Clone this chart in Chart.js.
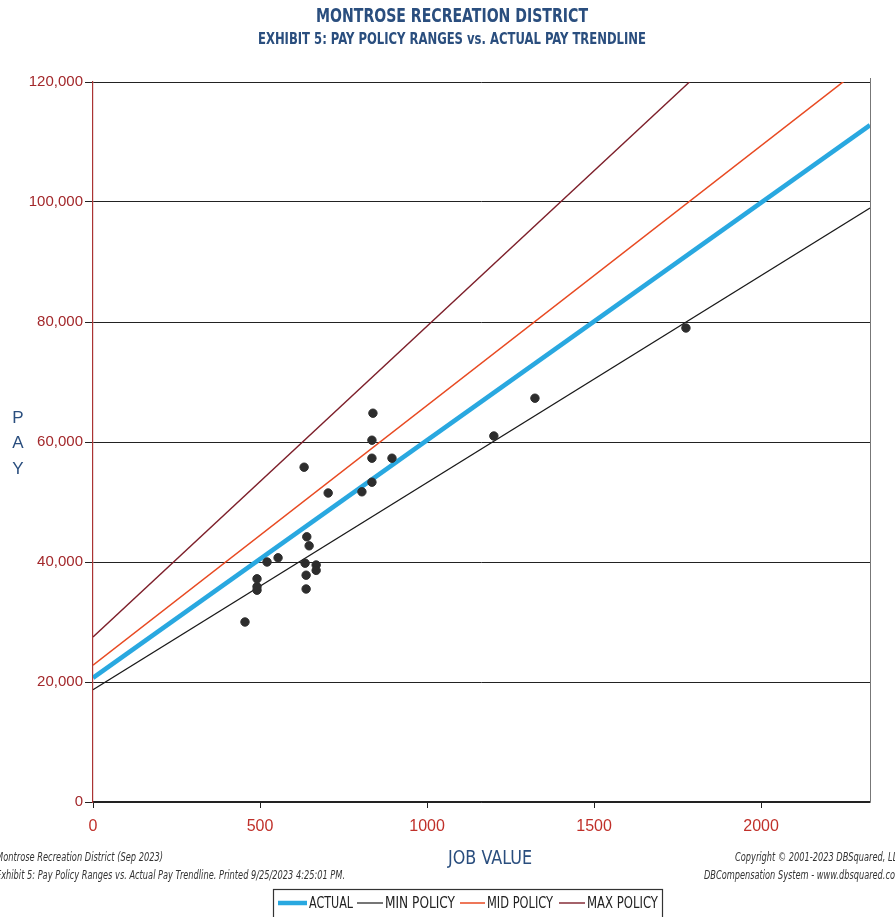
<!DOCTYPE html>
<html>
<head>
<meta charset="utf-8">
<script src="https://cdn.jsdelivr.net/npm/chart.js@4/dist/chart.umd.min.js"></script>
<style>
  html, body { margin: 0; padding: 0; background: #fff; }
  #wrap { width: 895px; height: 917px; }
</style>
</head>
<body>
<div id="wrap"><canvas id="chart" width="895" height="917"></canvas></div>
<script>
// trend lines: pay at job value 0 and at the right edge of the plot
const xEnds = [0, 2326];
const actualLine = [20700, 112800];
const minLine = [18700, 99000];
const midLine = [22800, 123500];
const maxLine = [27500, 148000];

// employees: job value / pay
const jobValues = [455, 491, 491, 491, 521, 554, 632, 635, 638, 638, 640, 647, 668, 668,
  704, 805, 835, 835, 835, 838, 895, 1200, 1323, 1775];
const payValues = [30000, 37200, 35300, 35900, 40000, 40700, 55800, 39800, 37800, 35500, 44200, 42700, 39500, 38600,
  51500, 51700, 53300, 57300, 60300, 64800, 57300, 61000, 67300, 79000];

const yTicks = [0, 20000, 40000, 60000, 80000, 100000, 120000];
const xTicks = [0, 500, 1000, 1500, 2000];

const FONT = "'Liberation Sans Narrow', 'DejaVu Sans Condensed', 'Liberation Sans', sans-serif";
const BLUE = "#2a4e7e";

function linePts(ys) {
  return xEnds.map((x, i) => ({ x: x, y: ys[i] }));
}

const decor = {
  id: "decor",
  afterDraw(chart) {
    const ctx = chart.ctx;
    const a = chart.chartArea;
    ctx.save();
    // right border
    ctx.strokeStyle = "#777";
    ctx.lineWidth = 1;
    ctx.beginPath();
    ctx.moveTo(a.right + 0.5, a.top - 4);
    ctx.lineTo(a.right + 0.5, a.bottom);
    ctx.stroke();

    // titles
    ctx.fillStyle = BLUE;
    ctx.textAlign = "center";
    ctx.textBaseline = "middle";
    ctx.font = "bold 19px " + FONT;
    ctx.fillText("MONTROSE RECREATION DISTRICT", 452, 17, 272);
    ctx.font = "bold 15px " + FONT;
    ctx.fillText("EXHIBIT 5: PAY POLICY RANGES vs. ACTUAL PAY TRENDLINE", 452, 40, 388);

    // y axis title
    ctx.font = "17px 'Liberation Sans', sans-serif";
    ["P", "A", "Y"].forEach((c, i) => ctx.fillText(c, 18, 418 + i * 25.5));

    // x axis title
    ctx.font = "20px " + FONT;
    ctx.fillText("JOB VALUE", 490, 859, 84);

    // footer notes
    ctx.fillStyle = "#333";
    ctx.font = "italic 11.5px " + FONT;
    ctx.textAlign = "left";
    ctx.fillText("Montrose Recreation District (Sep 2023)", -4, 858, 167);
    ctx.fillText("Exhibit 5: Pay Policy Ranges vs. Actual Pay Trendline. Printed 9/25/2023 4:25:01 PM.", -4, 876, 349);
    ctx.textAlign = "right";
    ctx.fillText("Copyright \u00a9 2001-2023 DBSquared, LLC", 903, 858, 168);
    ctx.fillText("DBCompensation System - www.dbsquared.com", 903, 876, 199);

    // legend box
    ctx.strokeStyle = "#333";
    ctx.lineWidth = 1.2;
    ctx.strokeRect(273.5, 889.5, 389, 34);
    const items = chart.data.datasets.filter(d => d.type === "line");
    const starts = [278, 357, 460, 559];
    const lens = [29, 26, 25, 26];
    const widths = [44, 70, 66, 71];
    ctx.font = "15px " + FONT;
    ctx.textAlign = "left";
    items.forEach((d, i) => {
      ctx.strokeStyle = d.borderColor;
      ctx.lineWidth = d.borderWidth;
      ctx.beginPath();
      ctx.moveTo(starts[i], 903);
      ctx.lineTo(starts[i] + lens[i], 903);
      ctx.stroke();
      ctx.fillStyle = "#222";
      ctx.fillText(d.label, starts[i] + lens[i] + 2, 904, widths[i]);
    });
    ctx.restore();
  }
};

new Chart(document.getElementById("chart"), {
  type: "scatter",
  data: {
    datasets: [
      { type: "line", label: "ACTUAL", data: linePts(actualLine), borderColor: "#29a8e0", borderWidth: 4.5, pointRadius: 0, order: 2 },
      { type: "line", label: "MIN POLICY", data: linePts(minLine), borderColor: "#1a1a1a", borderWidth: 1.2, pointRadius: 0, order: 3 },
      { type: "line", label: "MID POLICY", data: linePts(midLine), borderColor: "#e84a22", borderWidth: 1.5, pointRadius: 0, order: 3 },
      { type: "line", label: "MAX POLICY", data: linePts(maxLine), borderColor: "#7d1f2a", borderWidth: 1.4, pointRadius: 0, order: 3 },
      {
        type: "scatter", label: "Employees",
        data: jobValues.map((x, i) => ({ x: x, y: payValues[i] })),
        backgroundColor: "#2d2d2d", borderColor: "#2d2d2d", pointRadius: 4.2, order: 1
      }
    ]
  },
  options: {
    responsive: false,
    animation: false,
    layout: { padding: { left: 10, top: 82, right: 25, bottom: 75 } },
    plugins: { legend: { display: false }, title: { display: false }, tooltip: { enabled: false } },
    scales: {
      x: {
        type: "linear", min: 0, max: 2326,
        afterBuildTicks(scale) { scale.ticks = xTicks.map(v => ({ value: v })); },
        afterFit(scale) { scale.height = 40; },
        grid: { drawOnChartArea: false, color: "#222", tickLength: 6 },
        border: { color: "#222", width: 1.5 },
        ticks: {
          color: "#c0302a", font: { family: "'Liberation Sans', sans-serif", size: 16 }, padding: 9,
          callback: v => String(v)
        }
      },
      y: {
        min: 0, max: 120000,
        afterBuildTicks(scale) { scale.ticks = yTicks.map(v => ({ value: v })); },
        afterFit(scale) { scale.width = 83; },
        grid: { color: "#222", lineWidth: 1, tickLength: 8 },
        border: { color: "#a33", width: 1.2 },
        ticks: {
          color: "#a3282b", font: { family: "'Liberation Sans', sans-serif", size: 15 }, padding: 2,
          callback: v => v.toLocaleString("en-US")
        }
      }
    }
  },
  plugins: [decor]
});
</script>
</body>
</html>
